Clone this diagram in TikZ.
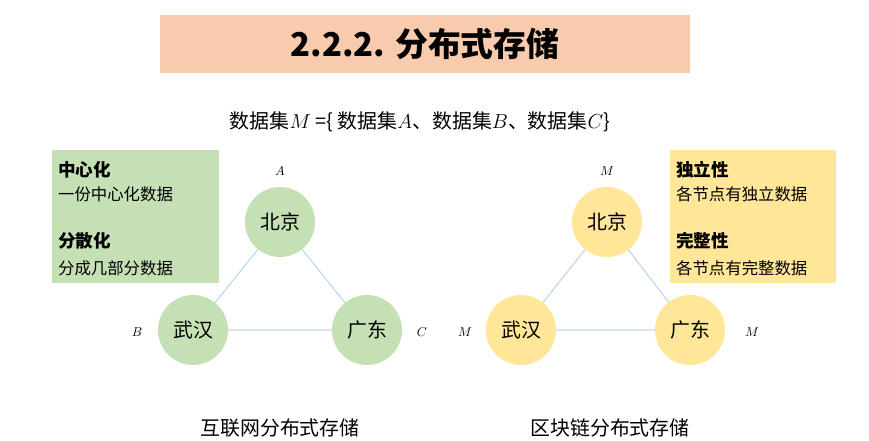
\documentclass[tikz,border=0pt]{standalone}
\usepackage{fontspec}
\setmainfont{Noto Sans CJK SC}
\usepackage{tikz}

\definecolor{titlebg}{HTML}{F8CBAD}
\definecolor{greenbg}{HTML}{C5E0B4}
\definecolor{yellowbg}{HTML}{FFE699}
\definecolor{linkcol}{HTML}{BDD7EE}

\tikzset{
  city/.style={circle,minimum size=70*0.03cm,inner sep=0pt,font=\fontsize{17}{20}\selectfont},
  tag/.style={font=\fontsize{11}{13}\selectfont\itshape\rmfamily},
  head/.style={anchor=west,font=\fontsize{15}{18}\selectfont\bfseries},
  body/.style={anchor=west,font=\fontsize{14}{16}\selectfont},
  link/.style={draw=linkcol,line width=1pt}
}

\begin{document}
\begin{tikzpicture}[x=0.03cm,y=-0.03cm]
  \useasboundingbox (0,0) rectangle (869,440);
  \fill[titlebg] (160,15) rectangle (690,73);
  \node (title) at (425,44) {\fontsize{28}{30}\selectfont\bfseries 2.2.2. 分布式存储};
  \node (set) at (420,122) {\fontsize{17}{20}\selectfont 数据集$M$ =\{ 数据集$A$、数据集$B$、数据集$C$\}};

  % left box
  \fill[greenbg] (52,150) rectangle (219,283);
  \node[head] (h1) at (54,170) {中心化};
  \node[body] (b1) at (54,194) {一份中心化数据};
  \node[head] (h2) at (54,241) {分散化};
  \node[body] (b2) at (54,268) {分成几部分数据};

  % internet storage
  \node[city,fill=greenbg] (bj) at (280,222) {北京};
  \node[city,fill=greenbg] (wh) at (193,330) {武汉};
  \node[city,fill=greenbg] (gd) at (367,330) {广东};
  \draw[link] (bj) -- (wh) (wh) -- (gd) (gd) -- (bj);
  \node[tag] (ta) at (280,171) {$A$};
  \node[tag] (tb) at (137,332) {$B$};
  \node[tag] (tc) at (422,332) {$C$};
  \node (cap1) at (280,428) {\fontsize{17}{20}\selectfont 互联网分布式存储};

  % blockchain storage
  \node[city,fill=yellowbg] (bj2) at (607,222) {北京};
  \node[city,fill=yellowbg] (wh2) at (521,330) {武汉};
  \node[city,fill=yellowbg] (gd2) at (690,330) {广东};
  \draw[link] (bj2) -- (wh2) (wh2) -- (gd2) (gd2) -- (bj2);
  \node[tag] (tm1) at (607,171) {$M$};
  \node[tag] (tm2) at (465,332) {$M$};
  \node[tag] (tm3) at (752,332) {$M$};
  \node (cap2) at (610,428) {\fontsize{17}{20}\selectfont 区块链分布式存储};

  % right box
  \fill[yellowbg] (670,150) rectangle (836,283);
  \node[head] (h3) at (672,170) {独立性};
  \node[body] (b3) at (672,194) {各节点有独立数据};
  \node[head] (h4) at (672,241) {完整性};
  \node[body] (b4) at (672,268) {各节点有完整数据};
\end{tikzpicture}
\end{document}
